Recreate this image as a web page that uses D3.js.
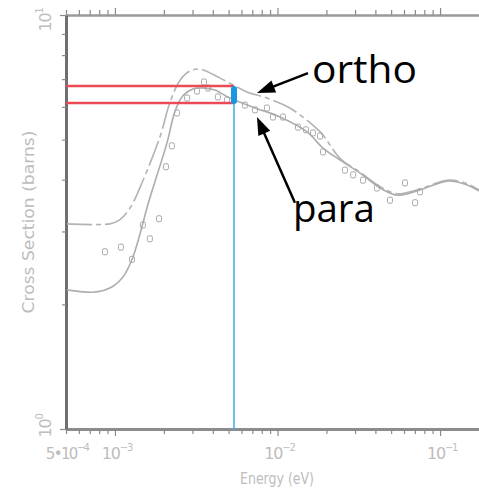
<!DOCTYPE html>
<html><head><meta charset="utf-8">
<script src="https://cdn.jsdelivr.net/npm/d3@7"></script>
<style>
html,body{margin:0;padding:0;background:#fff;}
svg{display:block;}
</style></head>
<body>
<svg id="c" width="479" height="497"></svg>
<script>
// ---- data (Energy in eV, cross section in barns) ----
const paraE   = [5e-4, 7.33e-4, 9.3e-4, 1.12e-3, 1.27e-3, 1.43e-3, 1.60e-3, 2.09e-3, 2.34e-3, 2.62e-3, 3.02e-3, 3.58e-3, 4.12e-3, 5.10e-3, 7.07e-3, 1.035e-2, 1.52e-2, 1.905e-2, 2.43e-2, 3.22e-2, 4.28e-2, 5.43e-2, 7.53e-2, 0.1104, 0.1426, 0.1738, 0.2];
const paraS   = [2.17, 2.14, 2.19, 2.33, 2.56, 2.97, 3.50, 4.91, 5.85, 6.38, 6.63, 6.66, 6.59, 6.30, 5.99, 5.67, 5.22, 4.77, 4.46, 4.15, 3.82, 3.67, 3.78, 3.97, 3.90, 3.76, 3.65];
const orthoE  = [5e-4, 9.3e-4, 1.07e-3, 1.24e-3, 1.49e-3, 1.89e-3, 2.18e-3, 2.51e-3, 2.89e-3, 3.34e-3, 4.43e-3, 6.49e-3, 8.61e-3, 1.19e-2, 1.83e-2, 2.43e-2, 3.22e-2, 4.28e-2, 5.43e-2, 7.53e-2, 0.1104, 0.1426, 0.1738, 0.2];
const orthoS  = [3.13, 3.13, 3.20, 3.42, 3.99, 5.07, 6.15, 6.95, 7.32, 7.40, 7.04, 6.52, 6.30, 5.96, 5.22, 4.50, 4.17, 3.85, 3.70, 3.80, 3.99, 3.93, 3.78, 3.66];
const pointsE = [8.68e-4, 1.089e-3, 1.274e-3, 1.486e-3, 1.64e-3, 1.866e-3, 2.06e-3, 2.24e-3, 2.41e-3, 2.78e-3, 3.20e-3, 3.53e-3, 3.74e-3, 4.30e-3, 4.89e-3, 6.31e-3, 7.27e-3, 8.61e-3, 9.38e-3, 1.081e-2, 1.337e-2, 1.497e-2, 1.652e-2, 1.826e-2, 1.905e-2, 2.60e-2, 2.92e-2, 3.36e-2, 4.09e-2, 4.92e-2, 6.09e-2, 7.02e-2, 7.53e-2];
const pointsS = [2.68, 2.75, 2.57, 3.11, 2.88, 3.22, 4.30, 4.83, 5.80, 6.30, 6.55, 6.89, 6.66, 6.34, 6.23, 6.06, 5.90, 5.96, 5.67, 5.67, 5.36, 5.28, 5.19, 5.10, 4.67, 4.22, 4.11, 3.99, 3.82, 3.57, 3.93, 3.52, 3.74];
// marked level range
const markE = 5.4e-3;
const markS = [6.74, 6.13];
// axis ticks
const xMajor = [1e-3, 1e-2, 1e-1];
const xMinor = [5e-4,6e-4,7e-4,8e-4,9e-4,2e-3,3e-3,4e-3,5e-3,6e-3,7e-3,8e-3,9e-3,2e-2,3e-2,4e-2,5e-2,6e-2,7e-2,8e-2,9e-2,2e-1];
const xLabels = [{v:5e-4, base:"5•10", exp:"−4"}, {v:1e-3, base:"10", exp:"−3"}, {v:1e-2, base:"10", exp:"−2"}, {v:1e-1, base:"10", exp:"−1"}];
const yMinor = [2,3,4,5,6,7,8,9];
const yLabels = [{v:10, base:"10", exp:"1"}, {v:1, base:"10", exp:"0"}];
// annotations
const annotations = [
  {text:"ortho", tE:1.63e-2, tS:6.85, width:105, fromE:1.54e-2, fromS:7.24, toE:7.48e-3, toS:6.48},
  {text:"para",  tE:1.245e-2, tS:3.16, width:82, fromE:1.28e-2, fromS:3.52, toE:7.48e-3, toS:5.67}
];

const svg = d3.select("#c");
const x = d3.scaleLog().domain([5e-4, 2e-1]).range([66, 489]);
const y = d3.scaleLog().domain([1, 10]).range([429, 15]);
const axisGray = "#bdbdbd";

// ---- axes ----
function styleAxis(g, domainStroke, domainWidth){
  g.select(".domain").attr("stroke", domainStroke).attr("stroke-width", domainWidth);
  g.selectAll(".tick line").attr("stroke", "#8a8a8a").attr("stroke-width", 1.2);
  g.selectAll(".tick text").remove();
}
// bottom
svg.append("g").attr("transform","translate(0,429)")
  .call(d3.axisBottom(x).tickValues(xMinor).tickSize(5).tickSizeOuter(0).tickFormat(""))
  .call(g=>styleAxis(g,"#8c8c8c",3));
svg.append("g").attr("transform","translate(0,429)")
  .call(d3.axisBottom(x).tickValues(xMajor).tickSize(7).tickSizeOuter(0).tickFormat(""))
  .call(g=>{styleAxis(g,"none",0);});
// top
svg.append("g").attr("transform","translate(0,15)")
  .call(d3.axisTop(x).tickValues(xMinor).tickSize(5).tickSizeOuter(0).tickFormat(""))
  .call(g=>styleAxis(g,"#9a9a9a",2.5));
svg.append("g").attr("transform","translate(0,15)")
  .call(d3.axisTop(x).tickValues(xMajor).tickSize(7).tickSizeOuter(0).tickFormat(""))
  .call(g=>styleAxis(g,"none",0));
// left
svg.append("g").attr("transform","translate(66,0)")
  .call(d3.axisLeft(y).tickValues(yMinor).tickSize(4).tickSizeOuter(0).tickFormat(""))
  .call(g=>styleAxis(g,"#6f6f6f",3));
svg.append("g").attr("transform","translate(66,0)")
  .call(d3.axisLeft(y).tickValues([1,10]).tickSize(6).tickSizeOuter(0).tickFormat(""))
  .call(g=>styleAxis(g,"none",0));

// tick labels
const fontAx = "'DejaVu Sans', sans-serif";
xLabels.forEach(d=>{
  const wide = d.base.length > 2;
  const t = svg.append("text").attr("x", x(d.v) + (wide ? 1 : 2)).attr("y", 459)
    .attr("text-anchor","middle").attr("font-family",fontAx).attr("font-size", wide ? 15 : 16)
    .attr("fill",axisGray).attr("letter-spacing", wide ? -1.6 : -1.2);
  t.append("tspan").text(d.base);
  t.append("tspan").attr("dy",-8).attr("font-size",10).text(d.exp);
});
yLabels.forEach(d=>{
  const t = svg.append("text").attr("transform",`translate(51,${y(d.v)+ (d.v===10?5:-3)}) rotate(-90)`)
    .attr("text-anchor","middle").attr("font-family",fontAx).attr("font-size",16)
    .attr("fill",axisGray).attr("letter-spacing",-1.2);
  t.append("tspan").text(d.base);
  t.append("tspan").attr("dy",-8).attr("font-size",10).text(d.exp);
});
svg.append("text").attr("x",277).attr("y",484).attr("text-anchor","middle")
  .attr("font-family",fontAx).attr("font-size",16).attr("fill",axisGray)
  .attr("textLength",74).attr("lengthAdjust","spacingAndGlyphs").text("Energy (eV)");
svg.append("text").attr("transform","translate(34,222) rotate(-90)").attr("text-anchor","middle")
  .attr("font-family",fontAx).attr("font-size",16).attr("fill",axisGray)
  .attr("textLength",183).attr("lengthAdjust","spacingAndGlyphs").text("Cross Section (barns)");

// ---- curves ----
svg.append("clipPath").attr("id","plot").append("rect")
  .attr("x",67).attr("y",16).attr("width",420).attr("height",412);
const line = d3.line().x(d=>x(d[0])).y(d=>y(d[1])).curve(d3.curveCatmullRom.alpha(0.5));
const plot = svg.append("g").attr("clip-path","url(#plot)");
plot.append("path").datum(d3.zip(orthoE, orthoS)).attr("d", line)
  .attr("fill","none").attr("stroke","#b3b3b3").attr("stroke-width",1.6)
  .attr("stroke-dasharray","26,4,5,4");
plot.append("path").datum(d3.zip(paraE, paraS)).attr("d", line)
  .attr("fill","none").attr("stroke","#adadad").attr("stroke-width",1.6);
plot.selectAll("rect.pt").data(d3.zip(pointsE, pointsS)).join("rect").attr("class","pt")
  .attr("x", d=>x(d[0])-2.5).attr("y", d=>y(d[1])-3).attr("width",5).attr("height",6)
  .attr("rx",1.5).attr("fill","none").attr("stroke","#a8a8a8").attr("stroke-width",1);

// ---- highlight lines ----
markS.forEach(s=>{
  svg.append("line").attr("x1", x(5e-4)).attr("x2", x(markE)).attr("y1", y(s)).attr("y2", y(s))
    .attr("stroke","#ec4a54").attr("stroke-width",2.4);
});
svg.append("line").attr("x1", x(markE)).attr("x2", x(markE)).attr("y1", y(markS[0])).attr("y2", y(1)+1)
  .attr("stroke","#37b0ea").attr("stroke-width",1.5);
svg.append("line").attr("x1", x(markE)).attr("x2", x(markE)).attr("y1", y(markS[0])+3).attr("y2", y(markS[1])-2)
  .attr("stroke","#1996df").attr("stroke-width",6).attr("stroke-linecap","round");

// ---- annotations ----
const headLen = 18, headW = 13;
annotations.forEach(a=>{
  const x1 = x(a.fromE), y1 = y(a.fromS), x2 = x(a.toE), y2 = y(a.toS);
  const dx = x2-x1, dy = y2-y1, L = Math.hypot(dx,dy), ux = dx/L, uy = dy/L;
  const bx = x2-ux*headLen, by = y2-uy*headLen;
  svg.append("line").attr("x1",x1).attr("y1",y1).attr("x2",bx+ux*2).attr("y2",by+uy*2)
    .attr("stroke","#000").attr("stroke-width",2.5);
  svg.append("path").attr("d",`M${x2},${y2}L${bx - uy*headW/2},${by + ux*headW/2}L${bx + uy*headW/2},${by - ux*headW/2}Z`)
    .attr("fill","#000");
  svg.append("text").attr("x", x(a.tE)).attr("y", y(a.tS))
    .attr("font-family","'Open Sans', sans-serif").attr("font-size",38).attr("fill","#000")
    .attr("textLength", a.width).attr("lengthAdjust","spacingAndGlyphs")
    .text(a.text);
});
</script>
</body></html>
